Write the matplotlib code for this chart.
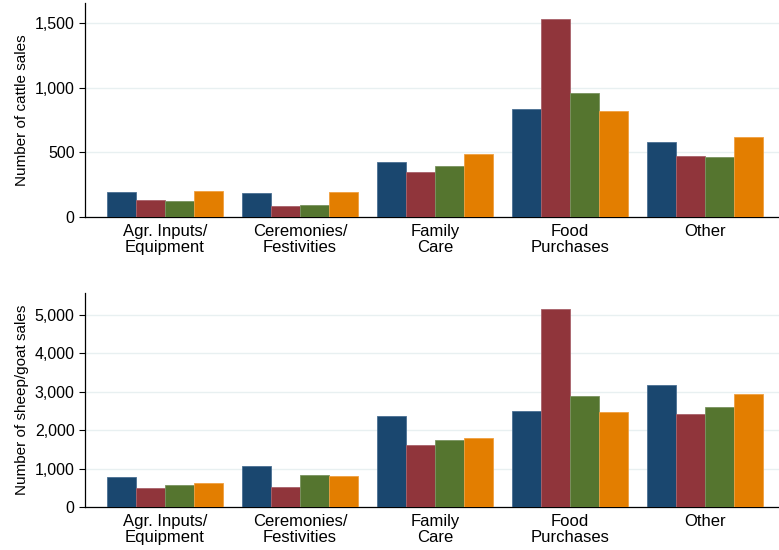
import matplotlib
matplotlib.use("Agg")
import matplotlib.pyplot as plt
import numpy as np

plt.rcParams['font.family'] = ['Liberation Sans', 'DejaVu Sans']

categories = ['Agr. Inputs/\nEquipment', 'Ceremonies/\nFestivities', 'Family\nCare',
              'Food\nPurchases', 'Other']

# cattle sales, four series per category
cattle_s1 = [191, 186, 423, 835, 582]
cattle_s2 = [131, 83, 346, 1531, 472]
cattle_s3 = [124, 90, 394, 959, 467]
cattle_s4 = [199, 191, 490, 820, 621]

# sheep/goat sales
sheep_s1 = [780, 1074, 2374, 2496, 3188]
sheep_s2 = [510, 520, 1620, 5156, 2426]
sheep_s3 = [572, 848, 1750, 2902, 2600]
sheep_s4 = [624, 814, 1802, 2478, 2946]

cattle_ticks = [0, 500, 1000, 1500]
sheep_ticks = [0, 1000, 2000, 3000, 4000, 5000]

colors = ['#1a476f', '#90353b', '#55752f', '#e37e00']
edges = ['#4a6f93', '#a9626a', '#7a9360', '#f0a040']


def draw(ax, series, ticks, ylabel, ytop):
    x = np.arange(len(categories))
    w = 0.216
    for i, vals in enumerate(series):
        ax.bar(x + (i - 1.5) * w, vals, width=w, color=colors[i],
               edgecolor=edges[i], linewidth=0.6, zorder=3)
    ax.set_xlim(-0.593, len(categories) - 1 + 0.548)
    ax.set_ylim(0, ytop)
    ax.set_yticks(ticks)
    ax.set_yticklabels([f'{t:,}' for t in ticks])
    ax.set_xticks(x)
    ax.set_xticklabels(categories, fontsize=12, linespacing=1.1)
    ax.tick_params(axis='x', length=0, pad=5)
    ax.tick_params(axis='y', length=4.5, width=0.8, labelsize=11.5, pad=3)
    ax.set_ylabel(ylabel, fontsize=11)
    ax.grid(axis='y', color='#e8f0f1', linewidth=1, zorder=0)
    for s in ['top', 'right']:
        ax.spines[s].set_visible(False)
    ax.spines['left'].set_linewidth(0.9)
    ax.spines['bottom'].set_linewidth(0.9)


fig = plt.figure(figsize=(7.79, 5.5), dpi=100)
W, H = 779, 550
ax1 = fig.add_axes([85 / W, 1 - 217 / H, (779 - 85) / W, (217 - 3) / H])
ax2 = fig.add_axes([85 / W, 1 - 507.3 / H, (779 - 85) / W, (507.3 - 293) / H])

draw(ax1, [cattle_s1, cattle_s2, cattle_s3, cattle_s4], cattle_ticks,
     'Number of cattle sales', 1655)
draw(ax2, [sheep_s1, sheep_s2, sheep_s3, sheep_s4], sheep_ticks,
     'Number of sheep/goat sales', 5572)

fig.savefig('out.png', dpi=100)
